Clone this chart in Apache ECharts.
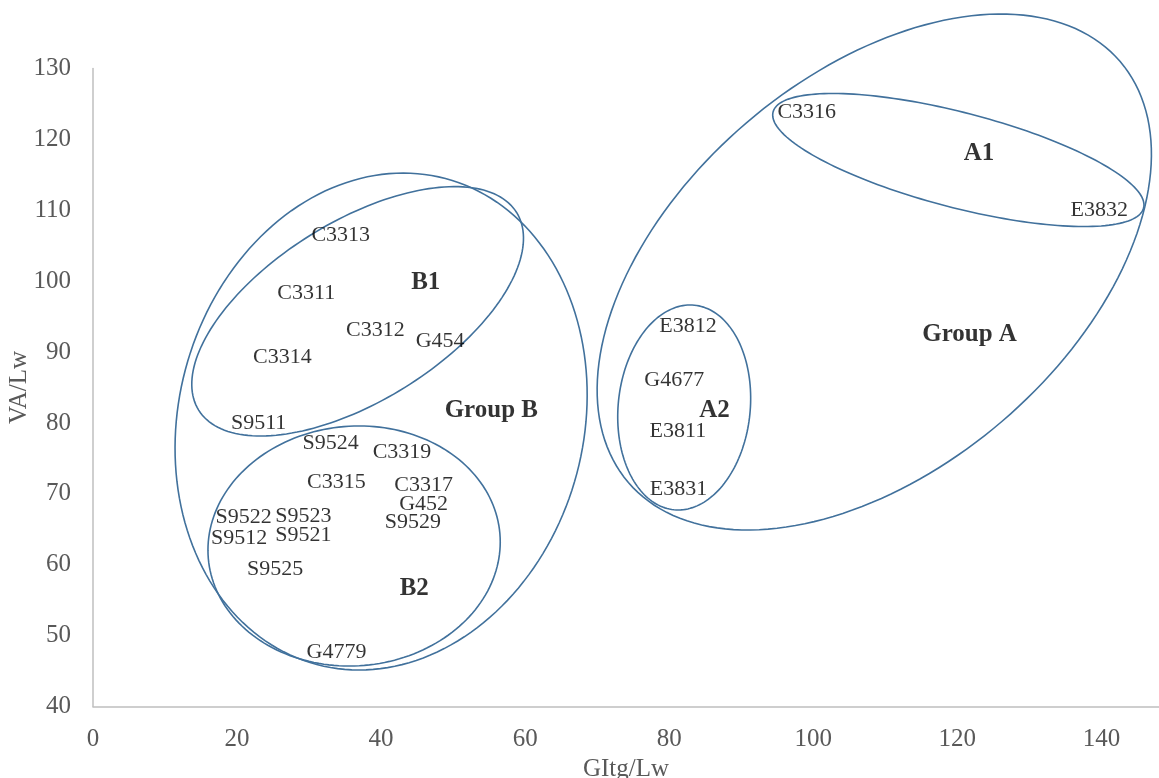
<!DOCTYPE html>
<html>
<head>
<meta charset="utf-8">
<script src="https://cdn.jsdelivr.net/npm/echarts@6/dist/echarts.min.js"></script>
<style>
html, body { margin: 0; padding: 0; background: #ffffff; }
#chart { width: 1159px; height: 778px; }
</style>
</head>
<body>
<div id="chart"></div>
<script>
// Samples: name, GItg/Lw, VA/Lw
const sampleNames = ['C3316', 'E3832', 'E3812', 'G4677', 'E3811', 'E3831',
  'C3313', 'C3311', 'C3312', 'G454', 'C3314', 'S9511',
  'S9524', 'C3319', 'C3315', 'C3317', 'G452', 'S9529',
  'S9522', 'S9523', 'S9512', 'S9521', 'S9525', 'G4779'];
const gitgLw = [99.1, 139.7, 82.6, 80.7, 81.2, 81.3,
  34.4, 29.6, 39.2, 48.2, 26.3, 23.0,
  33.0, 42.9, 33.8, 45.9, 45.9, 44.4,
  20.9, 29.2, 20.3, 29.2, 25.3, 33.8];
const vaLw = [123.8, 110.0, 93.6, 86.0, 78.8, 70.6,
  106.5, 98.3, 93.1, 91.5, 89.3, 80.0,
  77.1, 75.8, 71.6, 71.2, 68.6, 66.0,
  66.7, 66.9, 63.7, 64.1, 59.4, 47.6];

// Cluster captions and where they sit
const groupNames = ['A1', 'A2', 'B1', 'B2', 'Group A', 'Group B'];
const groupX = [123.0, 86.3, 46.2, 44.6, 121.7, 55.3];
const groupY = [118.0, 81.7, 99.8, 56.7, 92.5, 81.8];

// Cluster outlines in axis units: centre x, centre y,
// then the two semi-axis vectors (ux, uy) and (vx, vy)
const clusterOutlines = [
  [108.47, 101.29, 34.14, 29.69, 17.75, -21.05],  // Group A
  [120.14, 117.09, 25.72, -6.78, -1.66, -6.49],   // A1
  [82.08, 82.18, 1.42, 14.43, 9.12, -0.93],       // A2
  [40.00, 80.20, 8.93, 34.28, 27.18, -7.31],      // Group B
  [36.74, 95.75, 22.07, 13.94, 6.57, -10.73],     // B1
  [36.25, 62.64, 20.24, 1.76, 1.43, -16.84]       // B2
];

// Axis ticks
const xTicks = { min: 0, max: 148, step: 20 };
const yTicks = { min: 40, max: 130, step: 10 };

const SERIF = "'Liberation Serif', 'Times New Roman', serif";
const OUTLINE = '#41719c';

const chart = echarts.init(document.getElementById('chart'), null, { renderer: 'canvas' });

function renderOutline(params, api) {
  const cx = api.value(0), cy = api.value(1);
  const ux = api.value(2), uy = api.value(3);
  const vx = api.value(4), vy = api.value(5);
  const pts = [];
  const n = 180;
  for (let i = 0; i < n; i++) {
    const t = (i / n) * Math.PI * 2;
    const c = Math.cos(t), s = Math.sin(t);
    pts.push(api.coord([cx + ux * c + vx * s, cy + uy * c + vy * s]));
  }
  return {
    type: 'polygon',
    shape: { points: pts },
    style: { fill: 'none', stroke: OUTLINE, lineWidth: 1.6 }
  };
}

const axisLine = { show: true, lineStyle: { color: '#bfbfbf', width: 1.5 } };
const tickLabel = { fontFamily: SERIF, fontSize: 25, color: '#595959' };

chart.setOption({
  animation: false,
  backgroundColor: '#ffffff',
  grid: { left: 93, right: 0, top: 68.5, bottom: 71.5, containLabel: false, outerBoundsMode: 'none' },
  xAxis: {
    type: 'value',
    min: xTicks.min, max: xTicks.max, interval: xTicks.step,
    name: 'GItg/Lw',
    nameLocation: 'middle',
    nameGap: 50,
    nameMoveOverlap: false,
    nameTextStyle: { fontFamily: SERIF, fontSize: 25, color: '#595959' },
    axisLine: axisLine,
    axisTick: { show: false },
    splitLine: { show: false },
    axisLabel: Object.assign({ margin: 20, showMaxLabel: false }, tickLabel)
  },
  yAxis: {
    type: 'value',
    min: yTicks.min, max: yTicks.max, interval: yTicks.step,
    name: 'VA/Lw',
    nameLocation: 'middle',
    nameGap: 61,
    nameMoveOverlap: false,
    nameTextStyle: { fontFamily: SERIF, fontSize: 25, color: '#595959' },
    axisLine: axisLine,
    axisTick: { show: false },
    splitLine: { show: false },
    axisLabel: Object.assign({ margin: 22 }, tickLabel)
  },
  series: [
    {
      type: 'custom',
      name: 'outlines',
      renderItem: renderOutline,
      data: clusterOutlines,
      encode: { x: 0, y: 1 },
      clip: false,
      silent: true,
      z: 1
    },
    {
      type: 'scatter',
      name: 'samples',
      symbolSize: 0,
      data: sampleNames.map((n, i) => ({ name: n, value: [gitgLw[i], vaLw[i]] })),
      label: {
        show: true,
        position: 'inside',
        formatter: '{b}',
        fontFamily: SERIF,
        fontSize: 22,
        color: '#000000'
      },
      silent: true,
      z: 3
    },
    {
      type: 'scatter',
      name: 'groups',
      symbolSize: 0,
      data: groupNames.map((n, i) => ({ name: n, value: [groupX[i], groupY[i]] })),
      label: {
        show: true,
        position: 'inside',
        formatter: '{b}',
        fontFamily: SERIF,
        fontSize: 25,
        fontWeight: 'bold',
        color: '#000000'
      },
      silent: true,
      z: 3
    }
  ]
});
</script>
</body>
</html>
